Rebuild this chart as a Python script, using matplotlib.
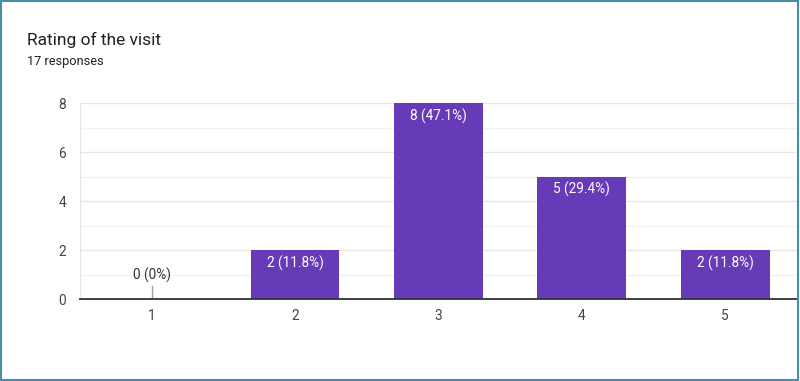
import matplotlib.pyplot as plt
from matplotlib.patches import Rectangle

ratings = [1, 2, 3, 4, 5]
counts = [0, 2, 8, 5, 2]
labels = ["0 (0%)", "2 (11.8%)", "8 (47.1%)", "5 (29.4%)", "2 (11.8%)"]
title = "Rating of the visit"
subtitle = "17 responses"

plt.rcParams.update({"font.family": ["Roboto", "DejaVu Sans"]})

fig = plt.figure(figsize=(8.0, 3.81), dpi=100)
ax = fig.add_axes([0.1, 0.2152, 0.896, 0.5144])

bar_color = "#673ab7"
ax.bar(ratings, counts, width=0.62, color=bar_color, zorder=3)

for x, c, lab in zip(ratings, counts, labels):
    if c == 0:
        ax.plot([x, x], [0, 0.55], color="#9e9e9e", lw=1, zorder=3)
        ax.annotate(lab, (x, 0.55), xytext=(0, 2), textcoords="offset points",
                    ha="center", va="bottom", fontsize=9.8, color="#333333")
    else:
        ax.annotate(lab, (x, c), xytext=(0, -4), textcoords="offset points",
                    ha="center", va="top", fontsize=9.8, color="white", zorder=4)

ax.set_xlim(0.5, 5.5)
ax.set_ylim(0, 8)
ax.set_yticks([0, 2, 4, 6, 8])
ax.set_yticks([1, 3, 5, 7], minor=True)
ax.set_xticks(ratings)
ax.grid(axis="y", which="major", color="#e6e6e6", lw=1, zorder=0)
ax.grid(axis="y", which="minor", color="#f2f2f2", lw=1, zorder=0)
ax.tick_params(axis="both", which="both", length=0, labelsize=9.8, colors="#444444")
ax.tick_params(axis="y", pad=10)
ax.tick_params(axis="x", pad=7)

for s in ("top", "right"):
    ax.spines[s].set_visible(False)
ax.spines["left"].set_color("#e6e6e6")
ax.spines["bottom"].set_color("#333333")
ax.spines["bottom"].set_linewidth(1.3)
ax.spines["bottom"].set_zorder(5)

fig.text(27 / 800, 1 - 40 / 381, title, fontsize=12.5, color="#212121", va="center", ha="left")
fig.text(27 / 800, 1 - 62 / 381, subtitle, fontsize=9.2, color="#212121", va="center", ha="left")

fig.patches.append(Rectangle((0.001, 0.002), 0.997, 0.995, transform=fig.transFigure,
                             fill=False, edgecolor="#4e8ca5", lw=1.5))

fig.savefig("out.png", dpi=100)
